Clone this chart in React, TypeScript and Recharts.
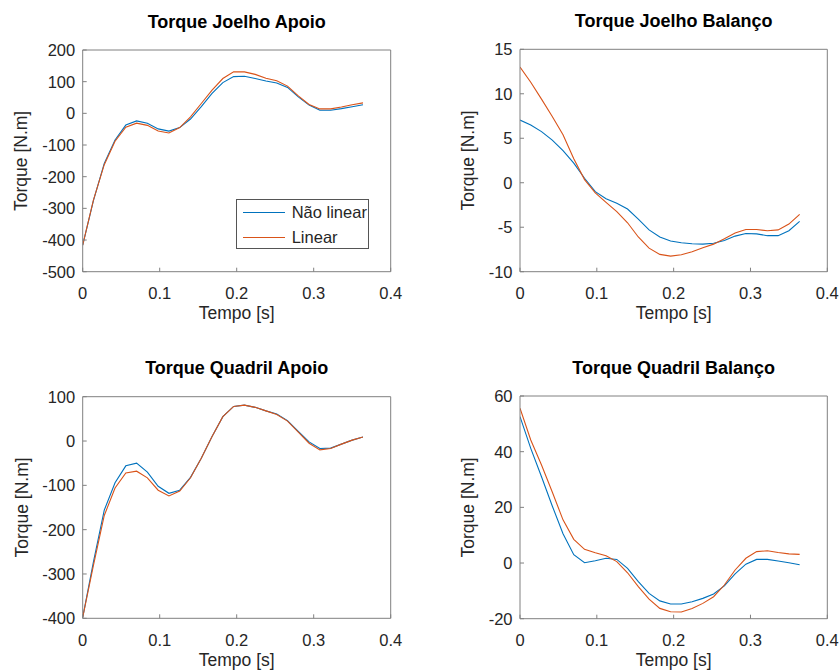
import React from 'react';
import { LineChart, Line, XAxis, YAxis, Legend, Label } from 'recharts';

// ---- data ----
const tempo = [
  0, 0.014, 0.028, 0.042, 0.056, 0.07, 0.084, 0.098, 0.112, 0.126, 0.14, 0.154, 0.168,
  0.182, 0.196, 0.21, 0.224, 0.238, 0.252, 0.266, 0.28, 0.294, 0.308, 0.322, 0.336, 0.35, 0.364,
];

const joelhoApoioNaoLinear = [
  -416, -275, -158, -84, -37, -24, -31, -49, -56, -45, -18, 21, 63, 97, 116, 117, 110, 102, 96, 82,
  52, 26, 10, 10, 15, 21, 27,
];
const joelhoApoioLinear = [
  -416, -273, -162, -88, -44, -31, -38, -56, -62, -45, -11, 31, 73, 110, 131, 131, 123, 111, 103, 86,
  55, 28, 14, 14, 20, 27, 33,
];

const joelhoBalancoNaoLinear = [
  7.05, 6.5, 5.75, 4.8, 3.6, 2.2, 0.5, -1.0, -1.8, -2.3, -2.95, -4.1, -5.3, -6.1, -6.55, -6.75, -6.85,
  -6.9, -6.8, -6.5, -6.0, -5.7, -5.75, -5.95, -5.95, -5.4, -4.35,
];
const joelhoBalancoLinear = [
  13.0, 11.3, 9.4, 7.45, 5.4, 2.7, 0.35, -1.15, -2.2, -3.25, -4.5, -6.1, -7.35, -8.05, -8.25, -8.1,
  -7.75, -7.3, -6.9, -6.3, -5.65, -5.25, -5.25, -5.4, -5.3, -4.65, -3.55,
];

const quadrilApoioNaoLinear = [
  -398, -272, -156, -94, -56, -50, -70, -102, -118, -111, -82, -39, 10, 55, 78, 81, 76, 68, 61, 46,
  22, -2, -17, -16, -7, 2, 9,
];
const quadrilApoioLinear = [
  -398, -280, -168, -106, -72, -68, -83, -111, -124, -113, -83, -39, 10, 55, 78, 81, 76, 68, 60, 45,
  20, -5, -20, -17, -7, 2, 9,
];

const quadrilBalancoNaoLinear = [
  52.6, 41.2, 31, 20.5, 10.5, 3, 0.1, 0.8, 1.7, 1.3, -1.9, -6.7, -10.9, -13.6, -14.7, -14.7, -13.9,
  -12.7, -11.1, -8.2, -3.9, -0.4, 1.3, 1.3, 0.7, 0.1, -0.6,
];
const quadrilBalancoLinear = [
  55.6, 44.2, 35.2, 25.5, 15.5, 8.5, 4.9, 3.7, 2.6, 0.5, -3.5, -8.5, -13, -16.3, -17.5, -17.6, -16.3,
  -14.5, -12.1, -7.9, -2.5, 1.7, 4.1, 4.4, 3.8, 3.3, 3.1,
];

const xTicks = [0, 0.1, 0.2, 0.3, 0.4];
const yTicksJoelhoApoio = [-500, -400, -300, -200, -100, 0, 100, 200];
const yTicksJoelhoBalanco = [-10, -5, 0, 5, 10, 15];
const yTicksQuadrilApoio = [-400, -300, -200, -100, 0, 100];
const yTicksQuadrilBalanco = [-20, 0, 20, 40, 60];

const seriesNames = ['Não linear', 'Linear'];
const titles = ['Torque Joelho Apoio', 'Torque Joelho Balanço', 'Torque Quadril Apoio', 'Torque Quadril Balanço'];
const xLabel = 'Tempo [s]';
const yLabel = 'Torque [N.m]';

// ---- styles ----
const FONT = '"Liberation Sans", Arial, Helvetica, sans-serif';
const TEXT = '#262626';
const AXIS = '#808080';
const BLUE = '#0072BD';
const ORANGE = '#D95319';
const TICK_FS = 16.5;
const LABEL_FS = 17.5;
const TITLE_FS = 18;
const LINE_W = 1.1;

const W = 420;
const H = 335;
const YW = 60;
const XH = 40;

type PlotBox = { l: number; r: number; t: number; b: number };

type PanelProps = {
  title: string;
  nl: number[];
  lin: number[];
  yTicks: number[];
  left: number;
  top: number;
  plot: PlotBox;
  yLabelOffset: number;
  showLegend?: boolean;
};

const LegendBox = (props: any) => {
  const payload = ((props.payload || []) as any[])
    .slice()
    .sort((a, b) => seriesNames.indexOf(a.value) - seriesNames.indexOf(b.value));
  return (
    <div
      style={{
        position: 'relative',
        width: '100%',
        height: '100%',
        boxSizing: 'border-box',
        border: '1px solid #555',
        background: '#fff',
        fontFamily: FONT,
        fontSize: TICK_FS,
        color: TEXT,
      }}
    >
      {payload.map((e: any, i: number) => (
        <div key={i} style={{ position: 'absolute', left: 0, top: i * 25, height: 24, width: '100%' }}>
          <div
            style={{
              position: 'absolute',
              left: 6,
              top: 11.5,
              width: 42,
              height: 0,
              borderTop: `1.2px solid ${e.color}`,
            }}
          />
          <div style={{ position: 'absolute', left: 55, top: 2, lineHeight: '20px', whiteSpace: 'nowrap' }}>{e.value}</div>
        </div>
      ))}
    </div>
  );
};

function Panel(p: PanelProps) {
  const data = tempo.map((t, i) => ({ t, nl: p.nl[i], lin: p.lin[i] }));
  const margin = {
    left: p.plot.l - YW,
    right: W - p.plot.r - 1,
    top: p.plot.t - 1,
    bottom: H - p.plot.b - XH,
  };
  const yDomain = [p.yTicks[0], p.yTicks[p.yTicks.length - 1]];
  const plotW = p.plot.r - p.plot.l;
  const plotH = p.plot.b - p.plot.t;
  const tickStyle = { fontSize: TICK_FS, fill: TEXT, fontFamily: FONT };

  const titleContent = () => (
    <text
      x={p.plot.l + plotW / 2}
      y={p.plot.t - 22.4}
      textAnchor="middle"
      fontFamily={FONT}
      fontWeight="bold"
      fontSize={TITLE_FS}
      fill="#000"
    >
      {p.title}
    </text>
  );
  const xLabelContent = () => (
    <text x={p.plot.l + plotW / 2} y={p.plot.b + 47.4} textAnchor="middle" fontFamily={FONT} fontSize={LABEL_FS} fill={TEXT}>
      {xLabel}
    </text>
  );
  const yx = p.plot.l - p.yLabelOffset;
  const yy = p.plot.t + plotH / 2;
  const yLabelContent = () => (
    <text
      x={yx}
      y={yy}
      transform={`rotate(-90 ${yx} ${yy})`}
      textAnchor="middle"
      fontFamily={FONT}
      fontSize={LABEL_FS}
      fill={TEXT}
    >
      {yLabel}
    </text>
  );

  return (
    <div style={{ position: 'absolute', left: p.left, top: p.top, width: W, height: H }}>
      <LineChart width={W} height={H} data={data} margin={margin}>
        <XAxis
          dataKey="t"
          type="number"
          domain={[0, 0.4]}
          ticks={xTicks}
          interval={0}
          height={XH}
          tickSize={-4}
          tickMargin={19.5}
          tick={tickStyle}
          axisLine={{ stroke: AXIS }}
          tickLine={{ stroke: AXIS }}
          allowDataOverflow
        >
          <Label content={xLabelContent} />
        </XAxis>
        <XAxis
          xAxisId="top"
          orientation="top"
          dataKey="t"
          type="number"
          domain={[0, 0.4]}
          ticks={xTicks}
          interval={0}
          height={1}
          tickSize={-4}
          tick={false}
          axisLine={{ stroke: AXIS }}
          tickLine={{ stroke: AXIS }}
          allowDataOverflow
        >
          <Label content={titleContent} />
        </XAxis>
        <YAxis
          type="number"
          domain={yDomain}
          ticks={p.yTicks}
          interval={0}
          width={YW}
          tickSize={-4}
          tickMargin={11.5}
          tick={tickStyle}
          axisLine={{ stroke: AXIS }}
          tickLine={{ stroke: AXIS }}
          allowDataOverflow
        >
          <Label content={yLabelContent} />
        </YAxis>
        <YAxis
          yAxisId="right"
          orientation="right"
          type="number"
          domain={yDomain}
          ticks={p.yTicks}
          interval={0}
          width={1}
          tickSize={-4}
          tick={false}
          axisLine={{ stroke: AXIS }}
          tickLine={{ stroke: AXIS }}
          allowDataOverflow
        />
        <Line
          type="linear"
          dataKey="nl"
          name={seriesNames[0]}
          stroke={BLUE}
          strokeWidth={LINE_W}
          dot={false}
          activeDot={false}
          isAnimationActive={false}
        />
        <Line
          type="linear"
          dataKey="lin"
          name={seriesNames[1]}
          stroke={ORANGE}
          strokeWidth={LINE_W}
          dot={false}
          activeDot={false}
          isAnimationActive={false}
        />
        {p.showLegend && (
          <Legend
            layout="horizontal"
            verticalAlign="middle"
            align="center"
            content={<LegendBox />}
            wrapperStyle={{ position: 'absolute', left: 235.7, top: 199.3, width: 133, height: 50 }}
          />
        )}
      </LineChart>
    </div>
  );
}

export default function App() {
  return (
    <div style={{ position: 'absolute', left: 0, top: 0, width: 840, height: 671, background: '#fff' }}>
      <Panel
        title={titles[0]}
        nl={joelhoApoioNaoLinear}
        lin={joelhoApoioLinear}
        yTicks={yTicksJoelhoApoio}
        left={0}
        top={0}
        plot={{ l: 82.7, r: 390.7, t: 50, b: 271.7 }}
        yLabelOffset={55.2}
        showLegend
      />
      <Panel
        title={titles[1]}
        nl={joelhoBalancoNaoLinear}
        lin={joelhoBalancoLinear}
        yTicks={yTicksJoelhoBalanco}
        left={420}
        top={0}
        plot={{ l: 100, r: 407.3, t: 49.3, b: 271.7 }}
        yLabelOffset={45.8}
      />
      <Panel
        title={titles[2]}
        nl={quadrilApoioNaoLinear}
        lin={quadrilApoioLinear}
        yTicks={yTicksQuadrilApoio}
        left={0}
        top={335}
        plot={{ l: 82.7, r: 390.7, t: 61.7, b: 283.3 }}
        yLabelOffset={55.2}
      />
      <Panel
        title={titles[3]}
        nl={quadrilBalancoNaoLinear}
        lin={quadrilBalancoLinear}
        yTicks={yTicksQuadrilBalanco}
        left={420}
        top={335}
        plot={{ l: 100, r: 407.3, t: 61, b: 283.7 }}
        yLabelOffset={45.8}
      />
    </div>
  );
}
